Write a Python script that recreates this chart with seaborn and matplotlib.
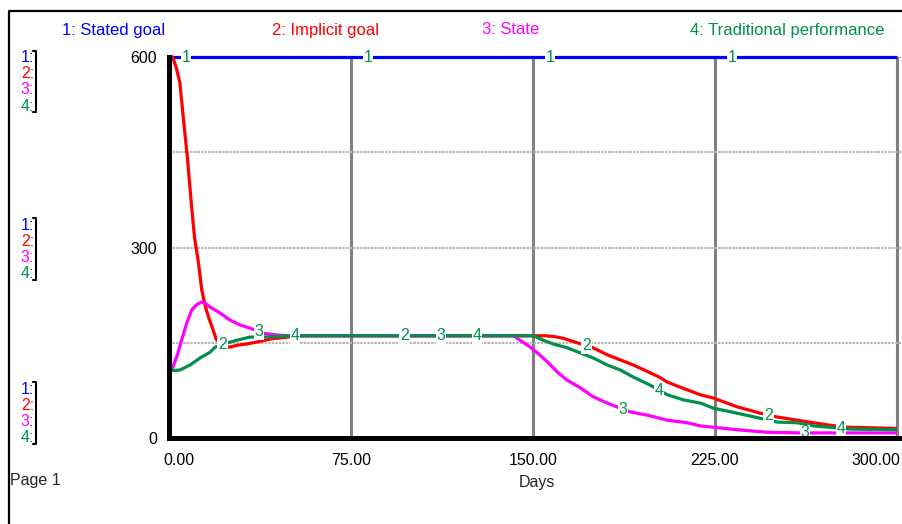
import numpy as np
import pandas as pd
import matplotlib
matplotlib.use("Agg")
import matplotlib.pyplot as plt
import seaborn as sns
from matplotlib.lines import Line2D
from matplotlib.transforms import ScaledTranslation

# ---- series (Days, value) ----
series_names = ["Stated goal", "Implicit goal", "State", "Traditional performance"]

stated_days = [0, 300]
stated_vals = [600, 600]

implicit_days = [0, 1.5, 3, 4.5, 6, 7.5, 9, 10.5, 12, 13.5, 15, 16.5, 18, 19.5,
                 21, 23, 25, 28, 32, 36, 42, 49, 55, 100, 150, 155, 158.4, 162.5,
                 168.2, 174.8, 180.6, 186, 191.3, 197, 202, 205.4, 210.7, 219,
                 224.3, 234.2, 243.7, 250.7, 259, 265.6, 272.6, 279.6, 290, 300]
implicit_vals = [600, 600, 583, 559, 500, 445, 378, 316, 280, 233, 207, 188, 172, 155,
                 150, 144, 143, 146, 148, 151, 156, 159, 161, 161, 161, 161, 160, 157,
                 150, 142, 131, 123, 115, 105, 96, 88, 80, 68,
                 63, 49, 39, 33, 28, 24, 20, 17, 16, 15]

state_days = [0, 1.1, 3.2, 5.2, 7.3, 9.4, 11.4, 13.5, 15, 17, 21, 25, 29.3, 33.4,
              38.8, 45, 50, 100, 142, 143.5, 148.9, 151.8, 155.9, 160, 164.1,
              169.5, 174.8, 180.6, 183.9, 190.1, 197.1, 205.4, 213.6, 219, 224.3,
              234.2, 246.6, 260.2, 300]
state_vals = [106, 107, 128, 154, 181, 202, 210, 214, 212, 206, 197, 186, 178, 173,
              165, 162, 161, 161, 161, 157, 143, 134, 120, 104, 91,
              79, 65, 55, 50, 41, 36, 28, 24, 19, 17,
              13, 9, 8, 8]

trad_days = [0, 4.5, 8.7, 12.8, 16.9, 19, 24.3, 28, 33.4, 39, 45, 50, 100, 148,
             150.1, 154.2, 158.4, 164.1, 169.5, 174.8, 180.6, 186, 191.3, 198.4,
             205.4, 212, 219, 224.3, 234.2, 243.7, 250.7, 259, 265.6, 280.8, 300]
trad_vals = [106, 107, 115, 126, 135, 143, 150, 154, 159, 159, 160, 161, 161, 161,
             161, 154, 148, 142, 134, 126, 115, 107, 96, 83,
             68, 60, 55, 47, 39, 31, 25, 24, 19, 14, 13]

x_ticks = [0, 75, 150, 225, 300]
x_tick_labels = ["0.00", "75.00", "150.00", "225.00", "300.00"]
y_ticks = [0, 150, 300, 450, 600]
y_tick_labels = ["0", "", "300", "", "600"]

# first day at which each series' number tag is drawn, then every 75 days
tag_start = [7, 22, 37, 52]
tag_step = 75

colors = ["#0000FF", "#FF0000", "#FF00FF", "#00904A"]
tag_color = "#00904A"

# ---- long-form table for seaborn ----
all_days = [stated_days, implicit_days, state_days, trad_days]
all_vals = [stated_vals, implicit_vals, state_vals, trad_vals]
df = pd.concat(
    [pd.DataFrame({"Days": d, "value": v, "series": n})
     for d, v, n in zip(all_days, all_vals, series_names)],
    ignore_index=True,
)

sns.set_style("white")
plt.rcParams["font.family"] = ["Liberation Sans", "DejaVu Sans"]

W, H = 903, 524
fig = plt.figure(figsize=(W / 100, H / 100), dpi=100)

def fx(px):
    return px / W

def fy(py):
    return 1 - py / H

x_left, x_right, y_top, y_bot = 169, 903, 57, 438
ax = fig.add_axes([fx(x_left), fy(y_bot), fx(x_right) - fx(x_left), (y_bot - y_top) / H])
ax.set_xlim(0, 300 * (x_right - x_left) / (897 - x_left))
ax.set_ylim(0, 600)

sns.lineplot(data=df, x="Days", y="value", hue="series", hue_order=series_names,
             palette=colors, estimator=None, sort=False, legend=False,
             linewidth=2.3, ax=ax)
for ln in ax.get_lines():
    ln.set_clip_on(False)
    ln.set_solid_capstyle("butt")
    ln.set_zorder(3)

# number tags along each series
for k, (d, v) in enumerate(zip(all_days, all_vals)):
    for j in range(4):
        t = tag_start[k] + tag_step * j
        ax.text(t, np.interp(t, d, v), str(k + 1), ha="center", va="center",
                color=tag_color, fontsize=11.5, zorder=5, clip_on=False,
                bbox=dict(facecolor="white", edgecolor="none", pad=0.6))

# axes styling
ax.set_xticks(x_ticks)
ax.set_xticklabels(x_tick_labels)
ax.set_yticks(y_ticks)
ax.set_yticklabels(y_tick_labels)
ax.tick_params(axis="both", direction="out", length=6.5, width=2.9, color="black",
               labelsize=11.5, labelcolor="black")
ax.tick_params(axis="y", pad=2)
ax.tick_params(axis="x", pad=4)
for s in ["top", "right"]:
    ax.spines[s].set_visible(False)
for s in ["left", "bottom"]:
    ax.spines[s].set_linewidth(3.6)
    ax.spines[s].set_color("black")
    ax.spines[s].set_zorder(6)

ax.set_axisbelow(True)
ax.xaxis.grid(True, color="#808080", linewidth=2.2, linestyle="-")
ax.yaxis.grid(True, color="#B8B8B8", linewidth=1.5, linestyle=(0, (1.2, 0.5)))

xl = ax.get_xticklabels()
xl[0].set_ha("left")
xl[0].set_transform(xl[0].get_transform() + ScaledTranslation(-0.06, 0, fig.dpi_scale_trans))
xl[-1].set_ha("right")
xl[-1].set_transform(xl[-1].get_transform() + ScaledTranslation(0.03, 0, fig.dpi_scale_trans))

ax.set_xlabel("Days", fontsize=11.5)
ax.xaxis.set_label_coords((537 - x_left) / (x_right - x_left), -(475 - y_bot) / (y_bot - y_top))
ax.set_ylabel("")

# legend row across the top
legend_x = [62, 272, 482, 690]
for k, (name, c) in enumerate(zip(series_names, colors)):
    fig.text(fx(legend_x[k]), fy(30), f"{k + 1}: {name}", color=c, fontsize=12,
             ha="left", va="center")

# scale keys on the left
key_groups = [[58, 74, 90, 106], [226, 242, 258, 274], [390, 406, 422, 438]]
bracket_spans = [(51, 112), (218, 280), (382, 444)]
for rows, (b0, b1) in zip(key_groups, bracket_spans):
    for k, yy in enumerate(rows):
        fig.text(fx(34), fy(yy), f"{k + 1}:", color=colors[k], fontsize=11.5,
                 ha="right", va="center")
    fig.add_artist(Line2D([fx(33), fx(36), fx(36), fx(33)],
                          [fy(b0), fy(b0), fy(b1), fy(b1)],
                          color="black", linewidth=1.5, transform=fig.transFigure))

fig.text(fx(10), fy(481), "Page 1", fontsize=11.5, ha="left", va="center")

# page frame
fig.add_artist(Line2D([fx(9), fx(9), 1], [0, fy(10.5), fy(10.5)], color="black",
                      linewidth=1.6, transform=fig.transFigure))

fig.savefig("out.png", dpi=100)
